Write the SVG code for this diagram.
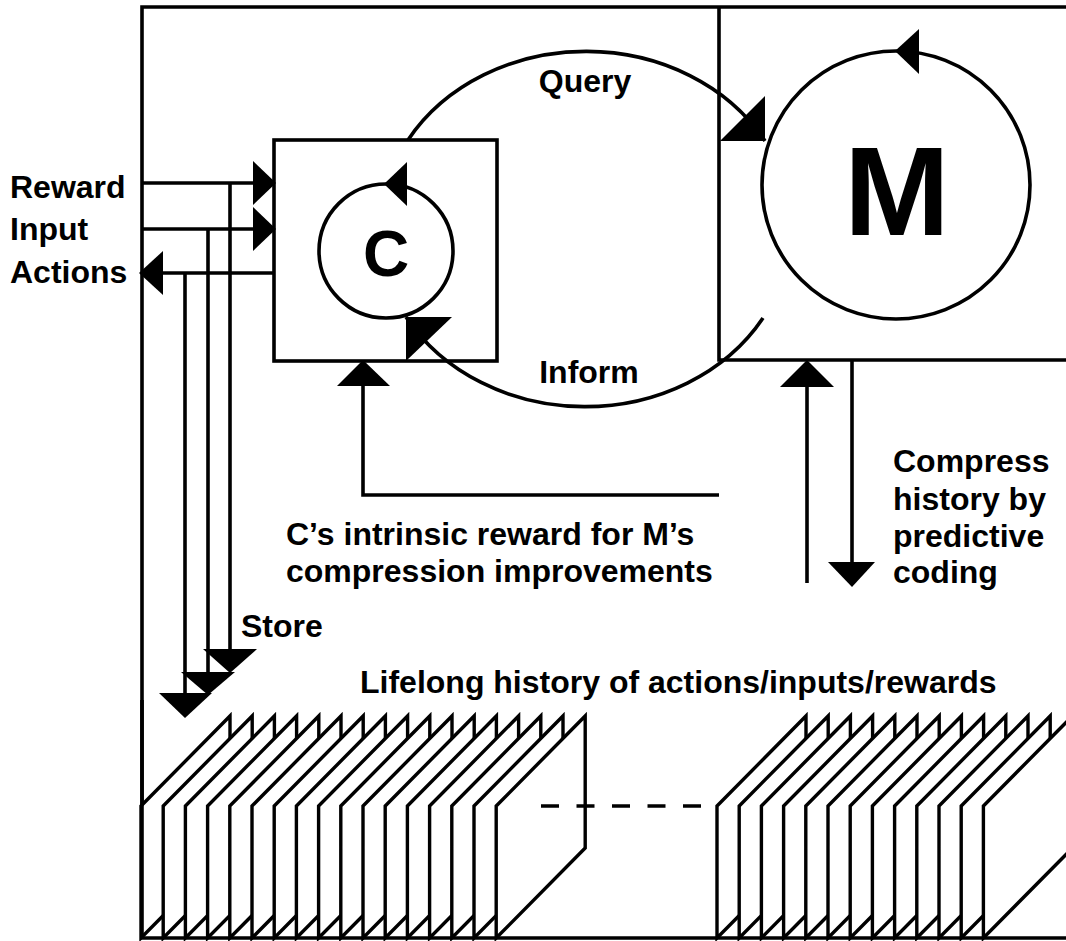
<svg xmlns="http://www.w3.org/2000/svg" xmlns:xlink="http://www.w3.org/1999/xlink" width="1066" height="941" viewBox="0 0 1066 941">
<style>
.ln{fill:none;stroke:#000;stroke-width:3.6}
.ah{fill:#000;stroke:none}
.card{fill:#fff;stroke:#000;stroke-width:3.4;stroke-linejoin:miter}
.t{font-family:"Liberation Sans",Arial,Helvetica,sans-serif;font-weight:bold;font-size:32px;fill:#000}
.mid{text-anchor:middle}
</style>
<defs>
<polygon id="card" class="card" points="0,806 89,716 89,848 0,938"/>
</defs>
<rect width="1066" height="941" fill="#fff"/>

<g id="frame">
<path class="ln" d="M142,938 V7 H1066"/>
<path class="ln" d="M719,7 V360 H1066"/>
</g>

<g id="connectors">
<!-- Query / Inform loop -->
<path class="ln" d="M408,140 A206,178 0 0 1 765,141"/>
<path class="ln" d="M406,317 A206,178 0 0 0 763,318"/>
<!-- Reward / Input / Actions -->
<path class="ln" d="M142,183 H256"/>
<path class="ln" d="M142,229 H256"/>
<path class="ln" d="M160,273 H274"/>
<polygon class="ah" points="253,161 276,183 253,205"/>
<polygon class="ah" points="253,207 276,229 253,251"/>
<polygon class="ah" points="163,251 139,273 163,295"/>
<!-- Store lines -->
<path class="ln" d="M230,183 V651"/>
<path class="ln" d="M208,229 V674"/>
<path class="ln" d="M185,273 V695"/>
<polygon class="ah" points="203,649 257,649 230,673"/>
<polygon class="ah" points="181,672 235,672 208,695"/>
<polygon class="ah" points="159,693 212,693 185,718"/>
<!-- intrinsic reward feedback -->
<path class="ln" d="M719,495 H363 V384"/>
<polygon class="ah" points="337,386 390,386 363,360"/>
<!-- compress -->
<path class="ln" d="M807,583 V384"/>
<polygon class="ah" points="780,387 834,387 807,360"/>
<path class="ln" d="M852,360 V565"/>
<polygon class="ah" points="828,562 875,562 852,587"/>
</g>

<g id="controller">
<rect class="ln" x="274" y="140" width="223" height="221"/>
<circle class="ln" cx="386" cy="251" r="67"/>
<polygon class="ah" points="407,162 384,184 407,206"/>
<text class="t mid" x="386" y="276" style="font-size:64px">C</text>
<polygon class="ah" points="406,317 452,317 406,361"/>
</g>

<g id="model">
<polygon class="ah" points="765,96 765,141 720,141"/>
<circle class="ln" cx="896" cy="185" r="134"/>
<polygon class="ah" points="919,29 895,51 919,74"/>
<text class="t mid" x="897" y="235" style="font-size:127px">M</text>
</g>

<g id="history">
<use xlink:href="#card" x="141"/>
<use xlink:href="#card" x="163.2"/>
<use xlink:href="#card" x="185.4"/>
<use xlink:href="#card" x="207.6"/>
<use xlink:href="#card" x="229.8"/>
<use xlink:href="#card" x="252"/>
<use xlink:href="#card" x="274.2"/>
<use xlink:href="#card" x="296.4"/>
<use xlink:href="#card" x="318.6"/>
<use xlink:href="#card" x="340.8"/>
<use xlink:href="#card" x="363"/>
<use xlink:href="#card" x="385.2"/>
<use xlink:href="#card" x="407.4"/>
<use xlink:href="#card" x="429.6"/>
<use xlink:href="#card" x="451.8"/>
<use xlink:href="#card" x="474"/>
<use xlink:href="#card" x="496.2"/>
<use xlink:href="#card" x="717"/>
<use xlink:href="#card" x="739.2"/>
<use xlink:href="#card" x="761.4"/>
<use xlink:href="#card" x="783.6"/>
<use xlink:href="#card" x="805.8"/>
<use xlink:href="#card" x="828"/>
<use xlink:href="#card" x="850.2"/>
<use xlink:href="#card" x="872.4"/>
<use xlink:href="#card" x="894.6"/>
<use xlink:href="#card" x="916.8"/>
<use xlink:href="#card" x="939"/>
<use xlink:href="#card" x="961.2"/>
<use xlink:href="#card" x="983.4"/>
<path class="ln" d="M541,806 H705" stroke-dasharray="18 17.5"/>
<path class="ln" d="M142,700 V938 H1066"/>
</g>

<g id="labels">
<text class="t" x="10" y="198">Reward</text>
<text class="t" x="10" y="240">Input</text>
<text class="t" x="10" y="283">Actions</text>
<text class="t mid" x="585" y="92">Query</text>
<text class="t mid" x="589" y="383">Inform</text>
<text class="t" x="286" y="545">C’s intrinsic reward for M’s</text>
<text class="t" x="286" y="582">compression improvements</text>
<text class="t" x="893" y="472">Compress</text>
<text class="t" x="893" y="510">history by</text>
<text class="t" x="893" y="547">predictive</text>
<text class="t" x="893" y="583">coding</text>
<text class="t" x="241" y="637">Store</text>
<text class="t" x="360" y="693">Lifelong history of actions/inputs/rewards</text>
</g>
</svg>
